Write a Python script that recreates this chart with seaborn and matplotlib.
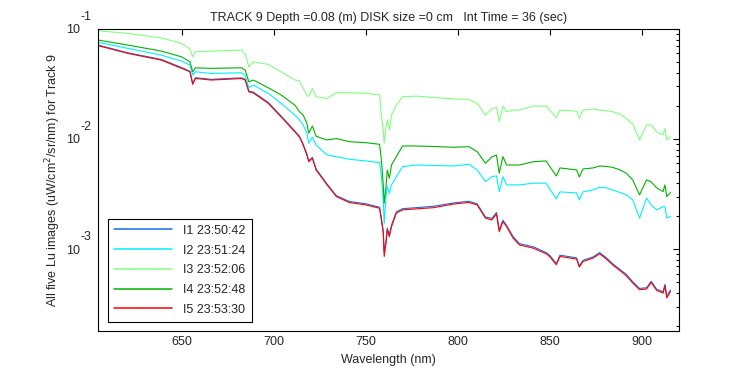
import matplotlib
matplotlib.use("Agg")
import matplotlib.pyplot as plt
import matplotlib.ticker as mticker
import seaborn as sns
import pandas as pd

# wavelength grid (nm) and the five Lu spectra, in units of 1e-3 uW/cm^2/sr/nm
wavelength = [605, 621, 639, 650, 654.5, 656, 657.5, 666, 682.5, 684.5, 686.5, 689, 697, 704,
              711.5, 714, 716, 718, 719, 721, 723, 729, 734, 741, 750, 757.5, 758.5, 759.5,
              760, 761, 761.7, 762.8, 764, 766.6, 770, 777.5, 787, 798, 806, 810.5, 815, 818.5,
              821, 822.5, 824.5, 826.5, 830, 833.5, 841, 848, 850, 853.5, 855.5, 864.5, 866,
              868, 873.5, 877, 880.7, 884, 888, 891.5, 895, 898.7, 902.5, 905, 908, 911.5,
              912.5, 913.5, 915.5]

i5 = [70.1, 59.8, 52.0, 43.8, 40.8, 31.3, 35.5, 34.3, 35.4, 34.3, 26.8, 26.1, 21.1, 15.9,
      11.6, 10.4, 8.82, 7.16, 6.22, 6.68, 5.24, 3.83, 3.00, 2.65, 2.52, 2.35, 1.84, 1.40,
      0.857, 1.13, 1.50, 1.30, 1.60, 2.12, 2.27, 2.32, 2.38, 2.57, 2.65, 2.52, 1.91, 1.84,
      2.09, 1.44, 1.78, 1.60, 1.26, 1.09, 1.02, 0.907, 0.851, 0.721, 0.857, 0.812, 0.687,
      0.772, 0.829, 0.907, 0.812, 0.721, 0.640, 0.573, 0.492, 0.428, 0.434, 0.498, 0.421,
      0.399, 0.465, 0.360, 0.413]

i1 = [71.0, 60.5, 52.8, 44.5, 41.2, 32.0, 36.0, 34.8, 35.9, 34.8, 27.3, 26.6, 21.5, 16.2,
      11.8, 10.6, 8.95, 7.30, 6.35, 6.80, 5.35, 3.90, 3.06, 2.71, 2.58, 2.40, 1.90, 1.46,
      0.95, 1.18, 1.55, 1.35, 1.66, 2.18, 2.33, 2.38, 2.45, 2.63, 2.72, 2.58, 1.96, 1.90,
      2.15, 1.49, 1.83, 1.64, 1.30, 1.12, 1.05, 0.930, 0.875, 0.740, 0.880, 0.833, 0.705,
      0.790, 0.850, 0.930, 0.835, 0.740, 0.655, 0.590, 0.505, 0.440, 0.445, 0.510, 0.432,
      0.410, 0.478, 0.372, 0.425]

i2 = [75.3, 66.4, 57.7, 50.9, 46.9, 38.0, 40.8, 39.4, 39.9, 38.0, 29.2, 30.9, 26.0, 21.1,
      16.5, 14.9, 13.4, 11.3, 9.14, 10.4, 8.82, 7.16, 6.91, 6.55, 6.32, 6.10, 4.55, 2.80,
      1.72, 3.00, 3.69, 3.22, 3.83, 4.55, 5.61, 5.81, 5.75, 5.69, 5.90, 5.24, 4.10, 4.55,
      4.62, 3.33, 4.55, 3.83, 3.83, 3.83, 3.97, 3.97, 3.50, 2.86, 3.31, 3.24, 2.80,
      3.31, 3.45, 3.65, 3.60, 3.45, 3.27, 3.11, 2.80, 1.91, 2.90, 2.52, 2.27,
      2.43, 2.43, 1.91, 1.98]

i3 = [96.0, 90.9, 82.9, 73.7, 65.5, 55.7, 61.9, 62.8, 64.1, 59.0, 45.2, 50.2, 47.6, 40.8,
      34.3, 33.9, 28.8, 25.1, 24.2, 28.8, 24.2, 23.4, 26.3, 26.3, 26.0, 25.1, 15.9, 12.1,
      9.14, 12.9, 14.9, 12.1, 16.5, 20.3, 24.2, 24.5, 23.8, 23.1, 22.9, 21.1, 16.5, 18.7,
      19.4, 14.4, 19.9, 17.7, 18.3, 18.3, 19.9, 19.9, 18.3, 15.5, 18.3, 17.9, 15.5,
      18.3, 18.7, 18.3, 18.1, 17.7, 16.9, 15.4, 13.7, 9.79, 13.4, 13.4, 11.6,
      10.9, 12.5, 9.79, 10.5]

i4 = [79.0, 71.2, 62.8, 55.7, 50.2, 40.8, 44.3, 43.8, 44.3, 42.2, 33.1, 34.3, 29.2, 25.1,
      20.3, 17.7, 16.5, 13.9, 11.3, 13.1, 10.6, 9.79, 10.1, 9.45, 9.26, 8.95, 6.45, 3.83,
      2.61, 3.69, 5.24, 4.40, 5.81, 6.91, 8.64, 8.64, 8.55, 8.41, 8.52, 7.67, 6.02, 6.87,
      7.16, 4.89, 6.91, 5.81, 5.81, 5.81, 6.22, 6.32, 5.61, 4.62, 5.46, 5.24, 4.52,
      5.35, 5.46, 5.69, 5.63, 5.54, 5.24, 4.89, 4.25, 3.11, 4.25, 4.08, 3.60,
      3.33, 3.83, 3.00, 3.26]

labels = ["I1 23:50:42", "I2 23:51:24", "I3 23:52:06", "I4 23:52:48", "I5 23:53:30"]
colors = ["#0a6fe8", "#00f0ff", "#80ff80", "#00b400", "#ff0000"]

rows = []
for lab, vals in zip(labels, [i1, i2, i3, i4, i5]):
    for w, v in zip(wavelength, vals):
        rows.append({"wl": w, "lu": v * 1e-3, "img": lab})
df = pd.DataFrame(rows)

sns.set_style("white")
plt.rcParams["font.family"] = ["Liberation Sans", "DejaVu Sans"]
plt.rcParams["font.size"] = 9

fig = plt.figure(figsize=(7.5, 3.75), dpi=100)
ax = fig.add_axes([0.131, 0.117, 0.774, 0.806])

sns.lineplot(data=df, x="wl", y="lu", hue="img", palette=colors, hue_order=labels,
             linewidth=0.8, ax=ax, estimator=None, sort=False)

ax.set_yscale("log")
ax.set_xlim(604.7, 920)
ax.set_ylim(1.8e-4, 1e-1)
ax.set_xticks([650, 700, 750, 800, 850, 900])

# MATLAB-style "10" with the exponent written above and to the right
ax.yaxis.set_major_locator(mticker.FixedLocator([1e-3, 1e-2, 1e-1]))
ax.yaxis.set_major_formatter(mticker.FixedFormatter(["10", "10", "10"]))
ax.yaxis.set_minor_locator(mticker.LogLocator(base=10, subs=range(2, 10)))
ax.yaxis.set_minor_formatter(mticker.NullFormatter())
for e in [-3, -2, -1]:
    ax.annotate(str(e), xy=(0, 10.0 ** e), xycoords=("axes fraction", "data"),
                xytext=(-12.5, 8.5), textcoords="offset points", ha="left", va="center",
                fontsize=9)

ax.tick_params(which="both", direction="in", top=True, right=True, labelsize=9, color="black")
ax.tick_params(which="major", length=4, width=0.8)
ax.tick_params(which="minor", length=2, width=0.8)
ax.tick_params(axis="y", pad=13)
for s in ax.spines.values():
    s.set_color("black")
    s.set_linewidth(0.8)

ax.set_xlabel("Wavelength (nm)", fontsize=9)
ax.set_ylabel("All five Lu images (uW/cm$^2$/sr/nm) for Track 9", fontsize=9, labelpad=2)
ax.set_title("TRACK 9 Depth =0.08 (m) DISK size =0 cm   Int Time = 36 (sec)", fontsize=9, pad=6)

leg = ax.legend(loc="lower left", bbox_to_anchor=(0.017, 0.03), borderaxespad=0,
                frameon=True, fancybox=False, edgecolor="black", framealpha=1,
                handlelength=4.6, labelspacing=0.62, borderpad=0.5, handletextpad=0.9,
                fontsize=9, title=None)
leg.get_frame().set_linewidth(0.8)
for h in leg.get_lines():
    h.set_linewidth(1.1)

fig.savefig("out.png", dpi=100)
